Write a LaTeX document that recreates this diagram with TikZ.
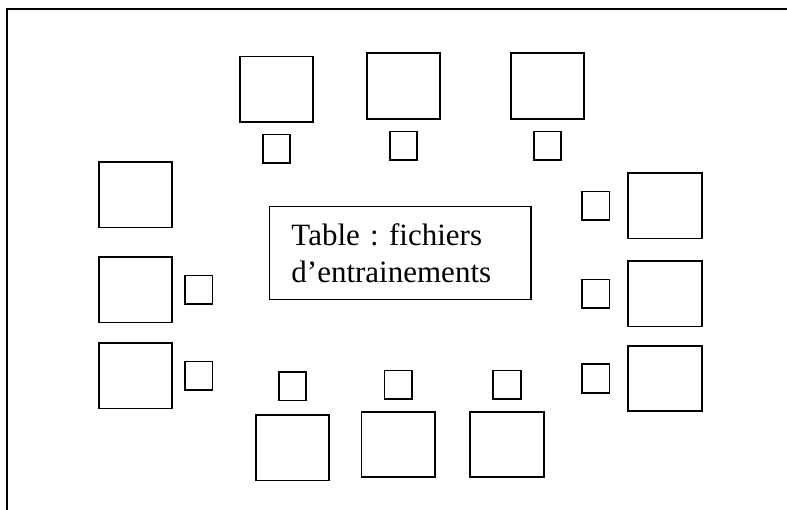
\documentclass[tikz,border=0pt]{standalone}
\usepackage{fontspec}
\setmainfont{Liberation Serif}
\usetikzlibrary{positioning}
\frenchspacing
\begin{document}
\begin{tikzpicture}
  [x=1pt, y=-1pt, line width=1.8pt, node distance=60pt,
    align=left,
    desk/.style={%
      rectangle, draw, minimum width=73.5pt, minimum height=65.5pt, inner sep=0pt
    },
    seat/.style={%
      rectangle, draw, minimum width=27.5pt, minimum height=28.5pt, inner sep=0pt
    },
    tablebox/.style={%
      rectangle, draw, minimum width=261.7pt, minimum height=93pt,
      inner xsep=22pt, text width=217.7pt,
      font=\fontsize{31pt}{36.6pt}\selectfont
    },
  ]
  \useasboundingbox (0,0) rectangle (787,510);

  % cadre
  \draw (7.3,510) -- (7.3,9.3) -- (787,9.3);

  \node[tablebox] (t) at (400.3,253) {Table : fichiers\\d’entrainements};

  % rangee du haut
  \node[desk] (h1) at (276.4,89.2) {};
  \node[desk] (h2) at (403.4,86) {};
  \node[desk] (h3) at (547.4,86) {};
  \node[seat] (sh1) [below of=h1, node distance=59.6pt] {};
  \node[seat] (sh2) [below of=h2, node distance=59.8pt] {};
  \node[seat] (sh3) [below of=h3, node distance=59.8pt] {};

  % cote gauche
  \node[desk] (g1) at (135.5,194.8) {};
  \node[desk] (g2) at (135.5,289.7) {};
  \node[desk] (g3) at (135.5,375.7) {};
  \node[seat] (sg2) [right of=g2, node distance=63.2pt] {};
  \node[seat] (sg3) [right of=g3, node distance=63.2pt] {};

  % cote droit
  \node[desk] (d1) at (665,205.7) {};
  \node[desk] (d2) at (665,293.8) {};
  \node[desk] (d3) at (665,378.5) {};
  \node[seat] (sd1) [left of=d1, node distance=69.2pt] {};
  \node[seat] (sd2) [left of=d2, node distance=69.2pt] {};
  \node[seat] (sd3) [left of=d3, node distance=69.2pt] {};

  % rangee du bas
  \node[desk] (b1) at (292.5,447.8) {};
  \node[desk] (b2) at (398.2,444.5) {};
  \node[desk] (b3) at (507,444.5) {};
  \node[seat] (sb1) [above of=b1, node distance=61.5pt] {};
  \node[seat] (sb2) [above of=b2, node distance=59.8pt] {};
  \node[seat] (sb3) [above of=b3, node distance=59.8pt] {};

\end{tikzpicture}
\end{document}
